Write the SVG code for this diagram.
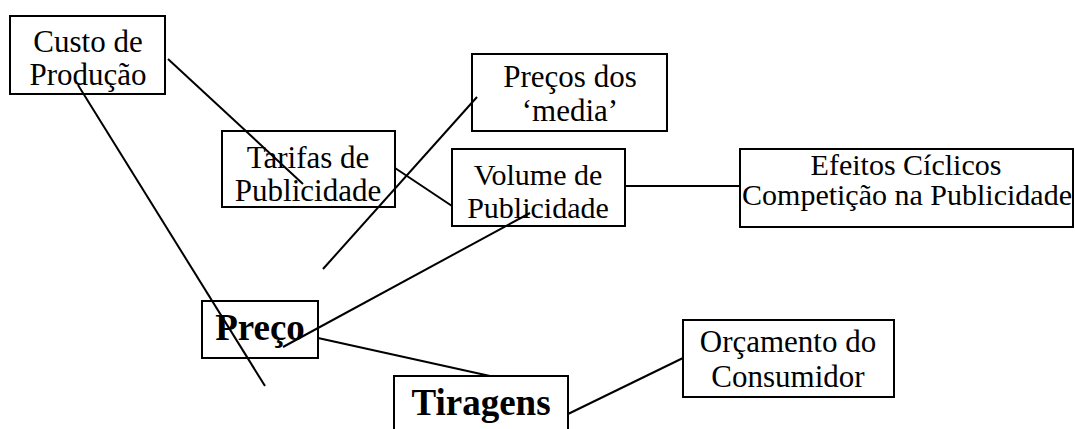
<svg xmlns="http://www.w3.org/2000/svg" width="1075" height="429" viewBox="0 0 1075 429">
<style>
.box{fill:#fff;stroke:#000;stroke-width:2}
.t{font-family:"Liberation Serif","Times New Roman",serif;font-size:31px;fill:#000;text-anchor:middle}
.s{font-size:30px}
.b{font-family:"Liberation Serif","Times New Roman",serif;font-size:37px;font-weight:bold;fill:#000;text-anchor:middle}
.ln{stroke:#000;stroke-width:2;fill:none}
</style>
<rect width="1075" height="429" fill="#fff"/>
<g id="n-custo"><rect class="box" x="10" y="16" width="155" height="78"/><text class="t" x="88" y="52">Custo de</text><text class="t" x="88" y="85">Produção</text></g>
<g id="n-tarifas"><rect class="box" x="222" y="131" width="173" height="76"/><text class="t" x="308" y="168">Tarifas de</text><text class="t" x="308" y="201">Publicidade</text></g>
<g id="n-precos"><rect class="box" x="472" y="54" width="195" height="77"/><text class="t" x="570" y="87">Preços dos</text><text class="t" x="570" y="121">‘media’</text></g>
<g id="n-volume"><rect class="box" x="452" y="149" width="173" height="77"/><text class="t s" x="538" y="185">Volume de</text><text class="t s" x="538" y="218">Publicidade</text></g>
<g id="n-efeitos"><rect class="box" x="740" y="149" width="333" height="78"/><text class="t s" x="906" y="175">Efeitos Cíclicos</text><text class="t s" x="907" y="205">Competição na Publicidade</text></g>
<g id="n-preco"><rect class="box" x="202" y="301" width="116" height="57"/><text class="b" x="260" y="340">Preço</text></g>
<g id="n-tiragens"><rect class="box" x="394" y="376" width="174" height="60"/><text class="b" x="481" y="415">Tiragens</text></g>
<g id="n-orcamento"><rect class="box" x="683" y="320" width="211" height="77"/><text class="t" x="788" y="352">Orçamento do</text><text class="t" x="788" y="387">Consumidor</text></g>
<g id="connectors">
<line class="ln" x1="168" y1="59" x2="303" y2="184"/>
<line class="ln" x1="78" y1="85" x2="265" y2="386"/>
<line class="ln" x1="477" y1="97" x2="323" y2="269"/>
<line class="ln" x1="395" y1="168" x2="452" y2="206"/>
<line class="ln" x1="625" y1="186" x2="740" y2="186"/>
<line class="ln" x1="530" y1="213" x2="283" y2="347"/>
<line class="ln" x1="318" y1="338" x2="490" y2="376"/>
<line class="ln" x1="568" y1="414" x2="683" y2="358"/>
</g>
</svg>
